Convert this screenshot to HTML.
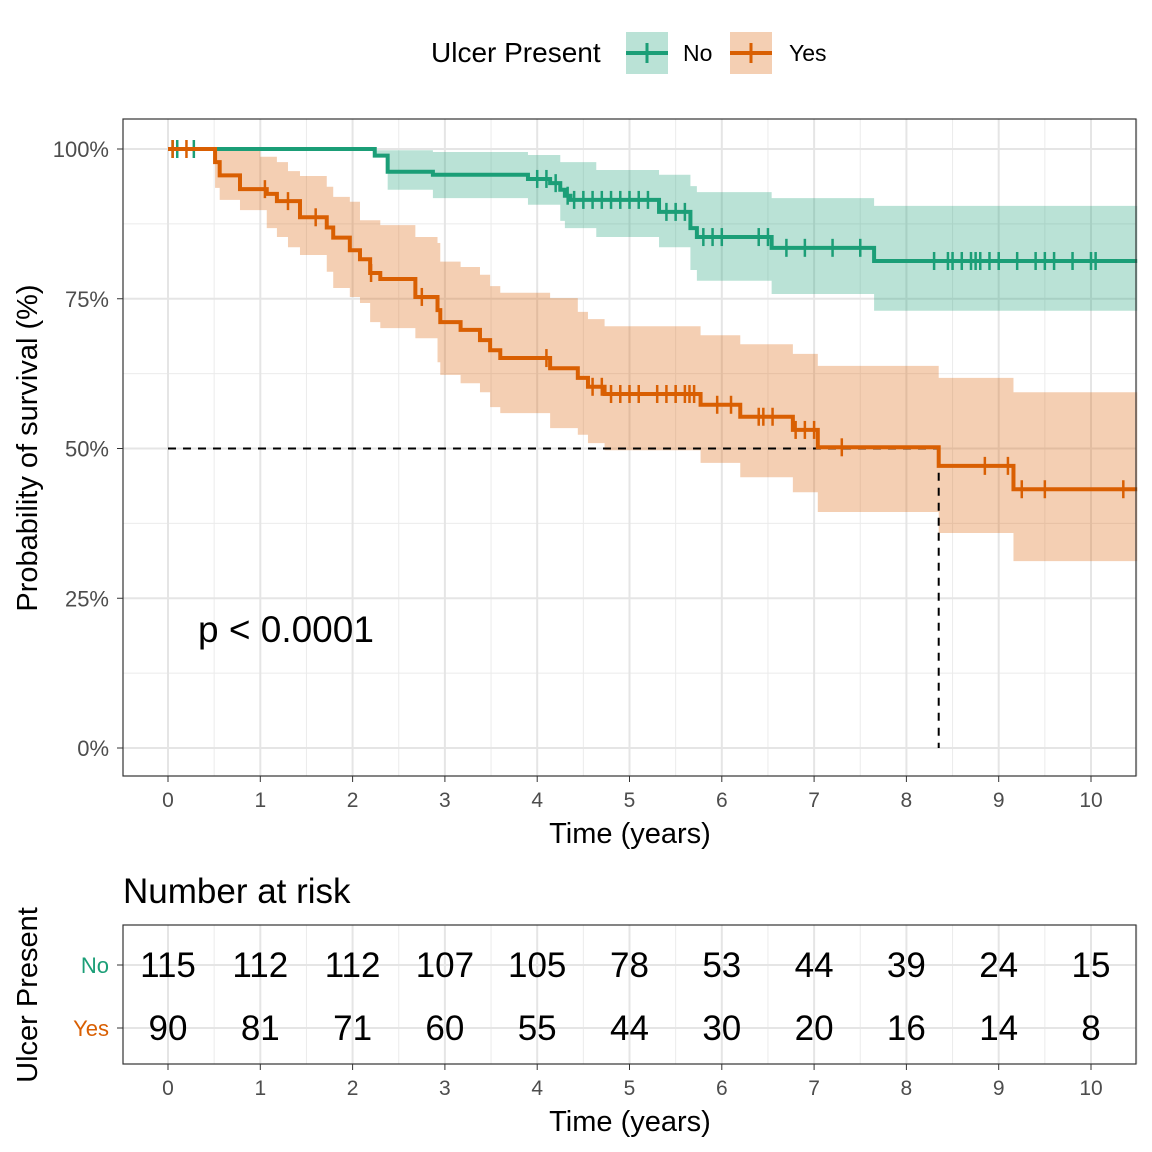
<!DOCTYPE html>
<html><head><meta charset="utf-8"><style>
html,body{margin:0;padding:0;background:#fff;}
svg{display:block;font-family:"Liberation Sans",Arial,sans-serif;}
</style></head><body>
<svg id="svg" width="1152" height="1152" viewBox="0 0 1152 1152" xmlns="http://www.w3.org/2000/svg">
<g id="legend">
<text x="431" y="62" font-size="28" fill="#000">Ulcer Present</text>
<g>
<rect x="626" y="32" width="42" height="42" fill="#1b9e77" fill-opacity="0.3"/>
<line x1="626" y1="53" x2="668" y2="53" stroke="#1b9e77" stroke-width="4"/>
<line x1="647" y1="43" x2="647" y2="63" stroke="#1b9e77" stroke-width="3"/>
<text x="683" y="61" font-size="23" fill="#000">No</text></g>
<g>
<rect x="730" y="32" width="42" height="42" fill="#d95f02" fill-opacity="0.3"/>
<line x1="730" y1="53" x2="772" y2="53" stroke="#d95f02" stroke-width="4"/>
<line x1="751" y1="43" x2="751" y2="63" stroke="#d95f02" stroke-width="3"/>
<text x="789" y="61" font-size="23" fill="#000">Yes</text></g>
</g>
<g id="grid"></g>
<g id="bands"></g>
<g id="lines"></g>
<g id="axes"></g>
<rect x="123" y="119" width="1013" height="657" fill="none" stroke="#333" stroke-width="1.2"/>
<text x="198" y="642" font-size="37" fill="#000">p &lt; 0.0001</text>
<text x="630" y="843" font-size="29" text-anchor="middle">Time (years)</text>
<text transform="translate(37,448) rotate(-90)" font-size="29" text-anchor="middle">Probability of survival (%)</text>
<text x="123" y="903" font-size="35">Number at risk</text>
<g id="risk"></g>
<rect x="123" y="925" width="1013" height="139" fill="none" stroke="#333" stroke-width="1.2"/>
<text x="630" y="1131" font-size="29" text-anchor="middle">Time (years)</text>
<text transform="translate(37,995) rotate(-90)" font-size="29" text-anchor="middle">Ulcer Present</text>
</svg>
<script>
const xTicks=[0,1,2,3,4,5,6,7,8,9,10];
const yTicks=[0,25,50,75,100];
const yTickLabels=["0%","25%","50%","75%","100%"];
const noTimes=[0,2.24,2.38,2.87,3.90,4.14,4.25,4.30,4.36,4.64,5.32,5.66,5.73,6.54,7.65];
const noSurv=[100,98.9,96.2,95.7,95.0,94.3,93.2,92.2,91.5,91.5,89.5,86.8,85.3,83.5,81.3];
const noUpper=[100,99.8,99.8,99.5,99.0,99.0,97.8,97.8,97.8,96.5,95.7,93.8,92.8,91.8,90.5];
const noLower=[100,98.7,93.2,91.8,90.7,90.7,88.0,86.8,86.8,85.3,83.6,79.8,78.0,75.8,73.0];
const yesTimes=[0,0.51,0.56,0.78,1.00,1.07,1.18,1.30,1.43,1.72,1.79,1.97,2.08,2.19,2.30,2.68,2.92,2.95,3.17,3.38,3.49,3.60,4.14,4.44,4.55,4.73,5.77,6.20,6.77,7.04,8.35,9.16];
const yesSurv=[100,97.8,95.6,93.3,93.3,92.5,91.3,91.3,88.6,86.9,85.2,83.1,81.6,79.3,78.3,75.3,73.1,71.1,69.8,68.1,66.4,65.1,63.4,61.8,60.3,59.1,57.3,55.3,53.1,50.2,47.1,43.2];
const yesUpper=[100,100,100,100,98.7,98.7,97.8,96.3,95.5,93.7,92.0,91.2,88.1,88.1,87.3,85.3,84.3,81.2,80.3,79.0,77.1,76.0,75.1,72.8,71.6,70.4,68.9,67.4,65.8,63.8,61.8,59.4];
const yesLower=[100,93.5,91.5,89.8,89.8,86.8,85.3,83.6,82.3,79.5,76.8,75.3,74.3,71.1,70.1,68.4,64.4,62.3,60.9,59.4,56.9,55.9,53.4,52.3,50.9,49.7,47.6,45.2,42.7,39.4,35.9,31.2];
const noCensor=[0.05,0.1,0.28,4.0,4.1,4.2,4.33,4.4,4.5,4.6,4.7,4.8,4.9,5.0,5.1,5.2,5.4,5.5,5.6,5.8,5.9,6.0,6.4,6.5,6.7,6.9,7.2,7.5,8.3,8.45,8.5,8.6,8.7,8.75,8.8,8.9,9.0,9.2,9.4,9.5,9.6,9.8,10.0,10.05];
const yesCensor=[0.05,0.2,1.05,1.3,1.6,2.2,2.75,4.1,4.6,4.7,4.8,4.9,5.0,5.1,5.3,5.4,5.5,5.6,5.65,5.7,5.95,6.1,6.4,6.45,6.55,6.8,6.9,7.0,7.3,8.85,9.1,9.25,9.5,10.35];
const medianTime=8.35;
const riskGroups=["No","Yes"];
const riskNo=[115,112,112,107,105,78,53,44,39,24,15];
const riskYes=[90,81,71,60,55,44,30,20,16,14,8];
const X0=168,XS=92.3,Y0=748,YS=5.99,XMAX=10.5;
const sx=t=>X0+XS*t, sy=p=>Y0-YS*p;
const NS="http://www.w3.org/2000/svg";
function mk(tag,attrs,parent){const e=document.createElementNS(NS,tag);for(const k in attrs)e.setAttribute(k,attrs[k]);parent.appendChild(e);return e;}
const grid=document.getElementById('grid'),axes=document.getElementById('axes');
for(let i=0;i<xTicks.length;i++){const t=xTicks[i]+0.5;if(t<=XMAX){const l=mk('line',{x1:sx(t),x2:sx(t),y1:119,y2:776,stroke:'#ebebeb','stroke-width':1},grid);
const l2=mk('line',{x1:sx(t),x2:sx(t),y1:925,y2:1064,stroke:'#ebebeb','stroke-width':1},grid);}}
for(let i=0;i<yTicks.length-1;i++){const p=yTicks[i]+12.5;const l=mk('line',{x1:123,x2:1136,y1:sy(p),y2:sy(p),stroke:'#ebebeb','stroke-width':1},grid);}
xTicks.forEach(t=>{const l=mk('line',{x1:sx(t),x2:sx(t),y1:119,y2:776,stroke:'#e5e5e5','stroke-width':2},grid);
const l2=mk('line',{x1:sx(t),x2:sx(t),y1:925,y2:1064,stroke:'#e5e5e5','stroke-width':2},grid);
const tk=mk('line',{x1:sx(t),x2:sx(t),y1:776,y2:782,stroke:'#333'},axes);
const tx=mk('text',{x:sx(t),y:807,'font-size':21,fill:'#4d4d4d','text-anchor':'middle'},axes);tx.textContent=t;
const tk2=mk('line',{x1:sx(t),x2:sx(t),y1:1064,y2:1070,stroke:'#333'},axes);
const tx2=mk('text',{x:sx(t),y:1095,'font-size':21,fill:'#4d4d4d','text-anchor':'middle'},axes);tx2.textContent=t;});
yTicks.forEach((p,i)=>{const l=mk('line',{x1:123,x2:1136,y1:sy(p),y2:sy(p),stroke:'#e5e5e5','stroke-width':2},grid);
const tk=mk('line',{x1:117,x2:123,y1:sy(p),y2:sy(p),stroke:'#333'},axes);
const tx=mk('text',{x:109,y:sy(p)+8,'font-size':22,fill:'#4d4d4d','text-anchor':'end'},axes);tx.textContent=yTickLabels[i];});
function stepPath(T,V){let d=`M${sx(T[0])},${sy(V[0])}`;for(let i=1;i<T.length;i++){d+=`H${sx(T[i])}V${sy(V[i])}`;}d+=`H${sx(XMAX)}`;return d;}
function bandPath(T,U,L){let d=`M${sx(T[0])},${sy(U[0])}`;for(let i=1;i<T.length;i++)d+=`H${sx(T[i])}V${sy(U[i])}`;d+=`H${sx(XMAX)}V${sy(L[L.length-1])}`;for(let i=T.length-1;i>0;i--)d+=`H${sx(T[i])}V${sy(L[i-1])}`;d+=`H${sx(T[0])}Z`;return d;}
const bands=document.getElementById('bands'),lines=document.getElementById('lines');
const b1=mk('path',{d:bandPath(noTimes,noUpper,noLower),fill:'#1b9e77','fill-opacity':0.3},bands);
const b2=mk('path',{d:bandPath(yesTimes,yesUpper,yesLower),fill:'#d95f02','fill-opacity':0.3},bands);
const ymed=sy(50);
const m1=mk('path',{d:`M${sx(0)},${ymed}H${sx(medianTime)}V${sy(0)}`,fill:'none',stroke:'#000','stroke-width':2,'stroke-dasharray':'8,7'},lines);
function survAt(T,V,t){let v=V[0];for(let i=0;i<T.length;i++){if(T[i]<=t)v=V[i];}return v;}
function series(T,V,C,col,name){const p=mk('path',{d:stepPath(T,V),fill:'none',stroke:col,'stroke-width':4},lines);
C.forEach(t=>{const y=sy(survAt(T,V,t));const c=mk('line',{x1:sx(t),x2:sx(t),y1:y-9,y2:y+9,stroke:col,'stroke-width':2.5},lines);});}
series(noTimes,noSurv,noCensor,'#1b9e77','no');
series(yesTimes,yesSurv,yesCensor,'#d95f02','yes');
const risk=document.getElementById('risk');
const rowY=[965,1028],rowCol=['#1b9e77','#d95f02'],rowVals=[riskNo,riskYes];
rowY.forEach((y,r)=>{const l=mk('line',{x1:123,x2:1136,y1:y,y2:y,stroke:'#e5e5e5','stroke-width':2},grid);
const tk=mk('line',{x1:117,x2:123,y1:y,y2:y,stroke:'#333'},axes);
const lb=mk('text',{x:109,y:y+8,'font-size':22,fill:rowCol[r],'text-anchor':'end'},risk);lb.textContent=riskGroups[r];
rowVals[r].forEach((v,i)=>{const t=mk('text',{x:sx(xTicks[i]),y:y+12,'font-size':35,fill:'#000','text-anchor':'middle'},risk);t.textContent=v;});});
</script>
</body></html>
